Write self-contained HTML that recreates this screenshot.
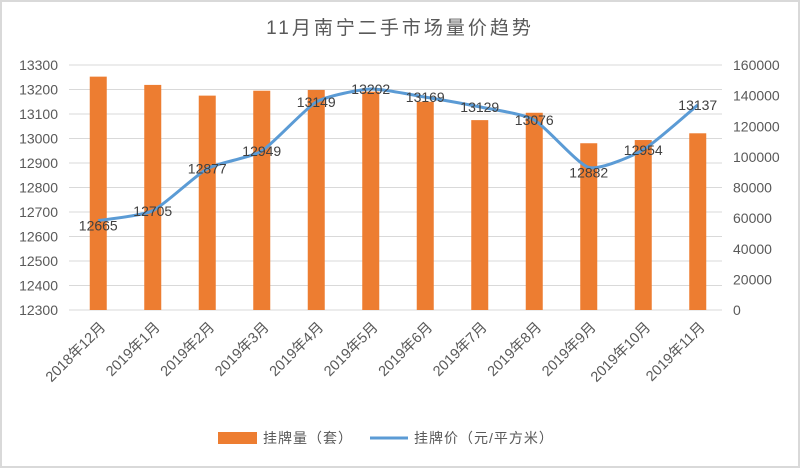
<!DOCTYPE html>
<html><head><meta charset="utf-8"><style>
html,body{margin:0;padding:0;background:#fff}
svg{display:block;font-family:"Liberation Sans","Noto Sans CJK SC",sans-serif}
</style></head><body>
<svg id="c" width="800" height="468" viewBox="0 0 800 468">
<rect x="1" y="1" width="798" height="466" fill="#fff" stroke="#d9d9d9" stroke-width="2"/>
<text x="400" y="34" text-anchor="middle" font-size="19" fill="#595959" letter-spacing="3">11月南宁二手市场量价趋势</text>
<g id="grid"></g><g id="bars"></g><g id="line"></g><g id="labels"></g><g id="axes"></g>
<g>
<rect x="218" y="432" width="39" height="12" fill="#ed7d31"/>
<text x="263" y="443" font-size="14" fill="#595959" letter-spacing="1">挂牌量（套）</text>
<line x1="370" y1="438" x2="408" y2="438" stroke="#5b9bd5" stroke-width="3"/>
<text x="414" y="443" font-size="14" fill="#595959" letter-spacing="1">挂牌价（元/平方米）</text>
</g>
</svg>
<script>
const categories=["2018年12月","2019年1月","2019年2月","2019年3月","2019年4月","2019年5月","2019年6月","2019年7月","2019年8月","2019年9月","2019年10月","2019年11月"];
const volumes=[152400,147000,140000,143200,143700,142600,136000,124000,128800,108900,111000,115400];
const prices=[12665,12705,12877,12949,13149,13202,13169,13129,13076,12882,12954,13137];
const leftTicks=[12300,12400,12500,12600,12700,12800,12900,13000,13100,13200,13300];
const rightTicks=[0,20000,40000,60000,80000,100000,120000,140000,160000];
const NS="http://www.w3.org/2000/svg";
const X0=71,X1=725,YT=65,YB=310;
const bw=(X1-X0)/categories.length;
const xc=i=>X0+bw*(i+0.5);
const yL=v=>YB-(v-12300)/1000*(YB-YT);
const yR=v=>YB-v/160000*(YB-YT);
function mk(tag,attrs,parent){const e=document.createElementNS(NS,tag);for(const k in attrs)e.setAttribute(k,attrs[k]);document.getElementById(parent).appendChild(e);return e;}
leftTicks.forEach(t=>{
 const l=mk('line',{x1:X0-2,x2:X1-3,y1:yL(t),y2:yL(t),stroke:'#d9d9d9','stroke-width':1},'grid');
 
 
 const tx=mk('text',{x:58,y:yL(t)+5,'text-anchor':'end','font-size':14,fill:'#595959'},'axes');
 tx.textContent=t;
 
 
});
rightTicks.forEach(t=>{
 const tx=mk('text',{x:733,y:yR(t)+5,'font-size':14,fill:'#595959'},'axes');
 tx.textContent=t;
 
 
});
volumes.forEach((v,i)=>{
 const r=mk('rect',{x:xc(i)-8.5,y:yR(v),width:17,height:YB-yR(v),fill:'#ed7d31'},'bars');
 
 
});
categories.forEach((c,i)=>{
 const tx=mk('text',{x:0,y:0,'text-anchor':'end','font-size':14.5,fill:'#595959',transform:`translate(${xc(i)+8},${YB+18}) rotate(-45)`},'axes');
 tx.textContent=c;
 
 
});
const pts=prices.map((p,i)=>[xc(i),yL(p)]);
let d=`M${pts[0][0]},${pts[0][1]}`;
for(let i=0;i<pts.length-1;i++){
 const p0=pts[Math.max(0,i-1)],p1=pts[i],p2=pts[i+1],p3=pts[Math.min(pts.length-1,i+2)];
 const t=0.1;
 d+=` C${p1[0]+(p2[0]-p0[0])*t},${p1[1]+(p2[1]-p0[1])*t} ${p2[0]-(p3[0]-p1[0])*t},${p2[1]-(p3[1]-p1[1])*t} ${p2[0]},${p2[1]}`;
}
const path=mk('path',{d:d,fill:'none',stroke:'#5b9bd5','stroke-width':3,'stroke-linejoin':'round'},'line');


prices.forEach((p,i)=>{
 const tx=mk('text',{x:xc(i),y:yL(p)+(i===0||i===9?10:5),'text-anchor':'middle','font-size':14,fill:'#404040'},'labels');
 tx.textContent=p;
 
 
});
</script>
</body></html>
